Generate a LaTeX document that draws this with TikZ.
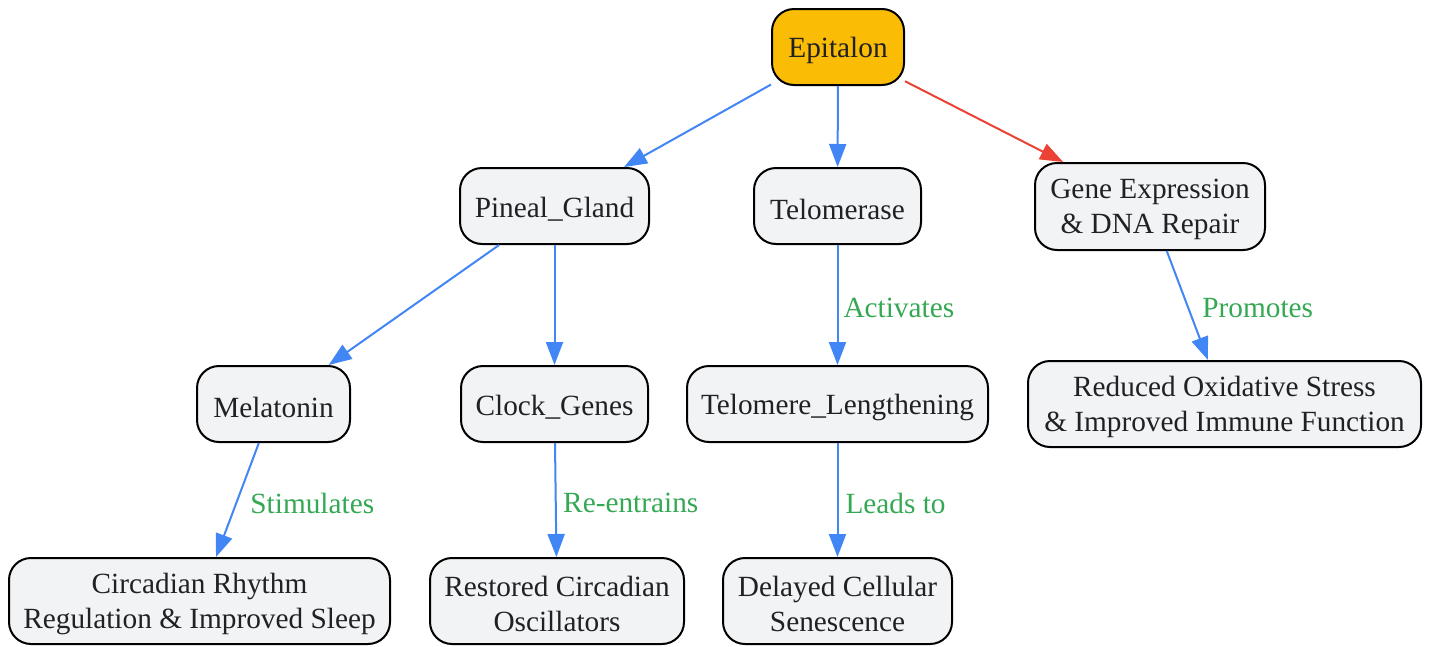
\documentclass[tikz,border=0pt]{standalone}
\usepackage{fontspec}
\setmainfont{Liberation Serif}
\usetikzlibrary{arrows.meta}
\definecolor{ink}{HTML}{202124}
\definecolor{nodefill}{HTML}{F1F3F4}
\definecolor{gold}{HTML}{FBBC05}
\definecolor{eblue}{HTML}{4285F4}
\definecolor{ered}{HTML}{EA4335}
\definecolor{egreen}{HTML}{34A853}
\begin{document}
\begin{tikzpicture}[x=1pt,y=-1pt,
  box/.style={draw=black, line width=2pt, rounded corners=22pt, fill=nodefill, inner sep=0pt},
  txt/.style={text=ink, font=\fontsize{29.3}{35}\selectfont, align=center, inner sep=0pt, yshift=-3pt},
  edge/.style={line width=2pt, draw=eblue, -{Triangle[length=23pt,width=17pt,fill=eblue]}},
  redge/.style={line width=2pt, draw=ered, -{Triangle[length=23pt,width=17pt,fill=ered]}},
  lab/.style={text=egreen, font=\fontsize{29.3}{35}\selectfont, anchor=west, inner sep=0pt, yshift=-3pt}]
\useasboundingbox (0,0) rectangle (1431,646);
% boxes
\node[box, fill=gold, minimum width=132pt, minimum height=76pt] (epi) at (838,47) {};
\node[box, minimum width=189pt, minimum height=76pt] (pin) at (554.5,206) {};
\node[box, minimum width=167pt, minimum height=76pt] (tel) at (837.5,206) {};
\node[box, minimum width=230pt, minimum height=87pt] (gene) at (1150,206.5) {};
\node[box, minimum width=153pt, minimum height=76pt] (mel) at (273.5,404) {};
\node[box, minimum width=187pt, minimum height=76pt] (clk) at (554.5,404) {};
\node[box, minimum width=301pt, minimum height=76pt] (tl) at (837.5,404) {};
\node[box, minimum width=393pt, minimum height=86pt] (red) at (1224.5,404) {};
\node[box, minimum width=381pt, minimum height=86pt] (circ) at (199.5,601) {};
\node[box, minimum width=254pt, minimum height=86pt] (rest) at (557,601) {};
\node[box, minimum width=229pt, minimum height=86pt] (del) at (837.5,601) {};
% texts
\node[txt] (epi-t) at (epi.center) {Epitalon};
\node[txt] (pin-t) at (pin.center) {Pineal\_Gland};
\node[txt] (tel-t) at (tel.center) {Telomerase};
\node[txt] (gene-t) at (gene.center) {Gene Expression\\\& DNA Repair};
\node[txt] (mel-t) at (mel.center) {Melatonin};
\node[txt] (clk-t) at (clk.center) {Clock\_Genes};
\node[txt] (tl-t) at (tl.center) {Telomere\_Lengthening};
\node[txt] (red-t) at (red.center) {Reduced Oxidative Stress\\\& Improved Immune Function};
\node[txt] (circ-t) at (circ.center) {Circadian Rhythm\\Regulation \& Improved Sleep};
\node[txt] (rest-t) at (rest.center) {Restored Circadian\\Oscillators};
\node[txt] (del-t) at (del.center) {Delayed Cellular\\Senescence};
% connectors
\draw[edge] (epi) -- (pin);
\draw[edge] (epi) -- (tel);
\draw[redge] (epi) -- (gene);
\draw[edge] (pin) -- (mel);
\draw[edge] (pin) -- (clk);
\draw[edge] (mel) -- node[lab, xshift=12pt] (l1) {Stimulates} (circ);
\draw[edge] (clk) -- node[lab, xshift=6.5pt] (l2) {Re-entrains} (rest);
\draw[edge] (tel) -- node[lab, xshift=5pt] (l3) {Activates} (tl);
\draw[edge] (tl) -- node[lab, xshift=7pt] (l4) {Leads to} (del);
\draw[edge] (gene) -- node[lab, xshift=14pt] (l5) {Promotes} (red);
\end{tikzpicture}
\end{document}
